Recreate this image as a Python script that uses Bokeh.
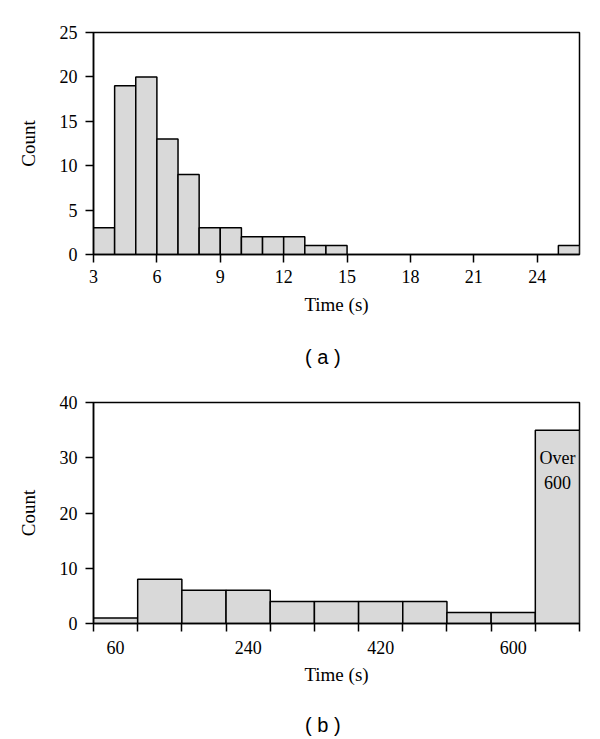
from bokeh.plotting import figure
from bokeh.layouts import column
from bokeh.models import FixedTicker, ColumnDataSource, Range1d, Div
from bokeh.embed import file_html
from bokeh.resources import INLINE

# ---- data (a) ----
a_bin_left = [3, 4, 5, 6, 7, 8, 9, 10, 11, 12, 13, 14, 15, 16, 17, 18, 19, 20, 21, 22, 23, 24, 25]
a_counts = [3, 19, 20, 13, 9, 3, 3, 2, 2, 2, 1, 1, 0, 0, 0, 0, 0, 0, 0, 0, 0, 0, 1]
a_bin_width = 1
a_xticks = [3, 6, 9, 12, 15, 18, 21, 24]
a_yticks = [0, 5, 10, 15, 20, 25]

# ---- data (b) ----
b_bin_left = [30, 90, 150, 210, 270, 330, 390, 450, 510, 570, 630]
b_counts = [1, 8, 6, 6, 4, 4, 4, 4, 2, 2, 35]
b_bin_width = 60
b_xtick_labels = [60, 240, 420, 600]
b_yticks = [0, 10, 20, 30, 40]
b_over_label = "Over\n600"

SERIF = "Liberation Serif"
SANS = "Liberation Sans"
FILL = "#d9d9d9"


def style(p, xlabel, ylabel):
    p.outline_line_color = "black"
    p.outline_line_width = 1.5
    p.grid.visible = False
    for ax in (p.xaxis[0], p.yaxis[0]):
        ax.axis_line_color = "black"
        ax.axis_line_width = 1.5
        ax.major_tick_line_color = "black"
        ax.major_tick_line_width = 1.5
        ax.minor_tick_line_color = None
        ax.major_tick_in = 0
        ax.major_tick_out = 8
        ax.major_label_text_font = SERIF
        ax.major_label_text_font_size = "18px"
        ax.major_label_text_color = "black"
        ax.axis_label_text_font = SERIF
        ax.axis_label_text_font_size = "19px"
        ax.axis_label_text_font_style = "normal"
        ax.axis_label_text_color = "black"
    p.xaxis.axis_label = xlabel
    p.yaxis.axis_label = ylabel
    p.xaxis.major_label_standoff = 7
    p.xaxis.axis_label_standoff = 8
    p.yaxis.major_label_standoff = 8
    p.yaxis.axis_label_standoff = 18


def panel_div(text, height, pad_top):
    html = ('<div style="padding-top:%dpx; padding-left:305px; font-family:\'%s\'; '
            'font-size:20px; line-height:24px; color:#000;">%s</div>') % (pad_top, SANS, text)
    return Div(text=html, width=592, height=height, margin=0)


# ---- figure (a) ----
pa = figure(width=592, height=330, output_backend="svg", toolbar_location=None,
            x_range=Range1d(3, 26), y_range=Range1d(0, 25),
            min_border_left=93, min_border_right=13, min_border_top=32, min_border_bottom=76)
src_a = ColumnDataSource(dict(
    left=[l for l, c in zip(a_bin_left, a_counts) if c > 0],
    right=[l + a_bin_width for l, c in zip(a_bin_left, a_counts) if c > 0],
    top=[c for c in a_counts if c > 0],
))
pa.quad(left="left", right="right", bottom=0, top="top", source=src_a,
        fill_color=FILL, line_color="black", line_width=1.5)
style(pa, "Time (s)", "Count")
pa.xaxis.ticker = FixedTicker(ticks=a_xticks)
pa.yaxis.ticker = FixedTicker(ticks=a_yticks)

div_a = panel_div("( a )", 50, 15)

# ---- figure (b) ----
b_edges = b_bin_left + [b_bin_left[-1] + b_bin_width]
pb = figure(width=592, height=320, output_backend="svg", toolbar_location=None,
            x_range=Range1d(b_edges[0], b_edges[-1]), y_range=Range1d(0, 40),
            min_border_left=93, min_border_right=13, min_border_top=22, min_border_bottom=77)
src_b = ColumnDataSource(dict(
    left=b_bin_left,
    right=[l + b_bin_width for l in b_bin_left],
    top=b_counts,
))
pb.quad(left="left", right="right", bottom=0, top="top", source=src_b,
        fill_color=FILL, line_color="black", line_width=1.5)
style(pb, "Time (s)", "Count")
pb.xaxis.ticker = FixedTicker(ticks=b_xtick_labels, minor_ticks=b_edges)
pb.xaxis.major_tick_out = 0
pb.xaxis.minor_tick_line_color = "black"
pb.xaxis.minor_tick_line_width = 1.5
pb.xaxis.minor_tick_in = 0
pb.xaxis.minor_tick_out = 8
pb.xaxis.major_label_standoff = 9
pb.xaxis.axis_label_standoff = 7
pb.yaxis.ticker = FixedTicker(ticks=b_yticks)
pb.text(x=[b_bin_left[-1] + b_bin_width / 2], y=[b_counts[-1]], text=[b_over_label],
        text_align="center", text_baseline="top", y_offset=18,
        text_font={"value": SERIF}, text_font_size="18px", text_line_height=1.25,
        text_color="black")

div_b = panel_div("( b )", 34, 13)

layout = column(pa, div_a, pb, div_b, spacing=0)
open("out.html", "w").write(file_html(layout, INLINE))
